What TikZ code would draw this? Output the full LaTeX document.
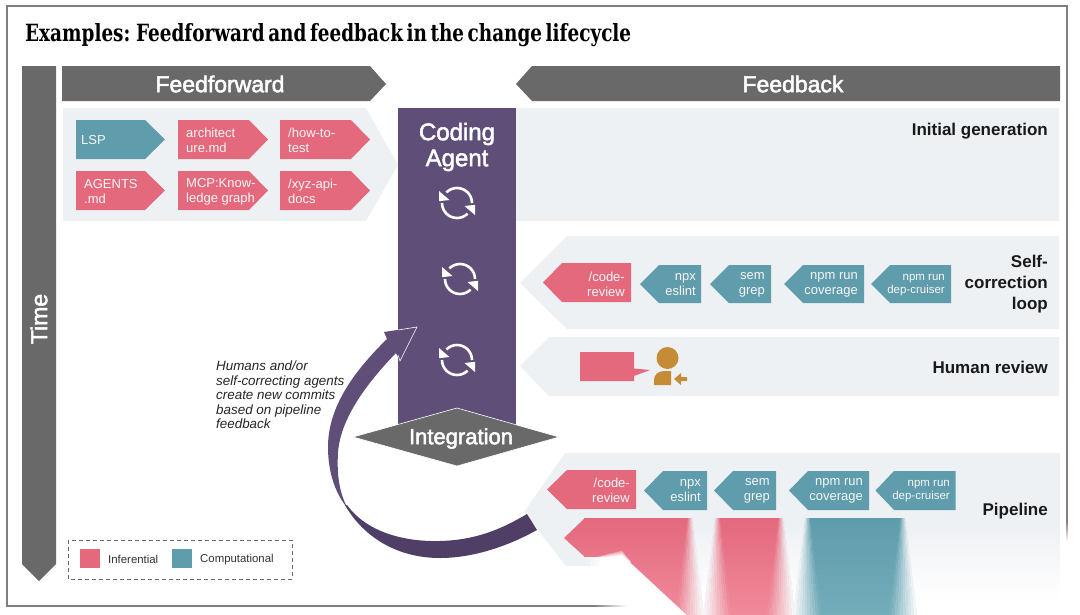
\documentclass[tikz,border=0pt]{standalone}
\usepackage{fontspec}
\setmainfont{Liberation Sans}
\newfontfamily\titlefont[WordSpace=0.55]{DejaVu Serif}
\newcommand{\medtext}[1]{\special{pdf:code 2 Tr 0.5 w}#1\special{pdf:code 0 Tr 1 w}}
\definecolor{cgray}{HTML}{696969}
\definecolor{cpanel}{HTML}{EEF1F4}
\definecolor{cpink}{HTML}{E4697D}
\definecolor{cpinklow}{HTML}{F08A9A}
\definecolor{cteal}{HTML}{5F9CAC}
\definecolor{ctealow}{HTML}{74ADBA}
\definecolor{cpurple}{HTML}{5E4E78}
\definecolor{cpurpledark}{HTML}{4F3F66}
\definecolor{cochre}{HTML}{C68C35}
\definecolor{cframe}{HTML}{7F7F7F}
\definecolor{cchip}{HTML}{F7F7F7}
\tikzset{
  x=1pt,y=-1pt,
  chiptext/.style={text=cchip,font=\fontsize{13}{15}\selectfont,inner sep=0pt,align=left},
  chiptextr/.style={text=cchip,font=\fontsize{13}{15}\selectfont,inner sep=0pt,align=right,anchor=east},
  chipsmall/.style={text=cchip,font=\fontsize{11.5}{13}\selectfont,inner sep=0pt,align=right,anchor=east},
  headtext/.style={text=white,font=\fontsize{23}{26}\selectfont,inner sep=0pt,align=center},
  stagetext/.style={text=black!90,font=\bfseries\fontsize{17}{21}\selectfont,inner sep=0pt,align=right,anchor=east},
  legendtext/.style={text=black!80,font=\fontsize{11.4}{13}\selectfont,inner sep=0pt,anchor=west},
}
\newcommand{\Rchip}[6]{\fill[#6] (#1,#4) -- (#2,#4) -- (#3,{(#4+#5)/2}) -- (#2,#5) -- (#1,#5) -- cycle;}
\newcommand{\Lchip}[6]{\fill[#6] (#3,#4) -- (#2,#4) -- (#1,{(#4+#5)/2}) -- (#2,#5) -- (#3,#5) -- cycle;}
\newcommand{\syncicon}[2]{%
  \begin{scope}[shift={(#1,#2)}]
    \draw[white,line width=2.6pt] (15,0) arc[start angle=0,end angle=-135,radius=15];
    \draw[white,line width=2.6pt] (-15,0) arc[start angle=180,end angle=45,radius=15];
    \fill[white] (-18,-12) -- (-7.5,-3) -- (-18,-1.8) -- cycle;
    \fill[white] (18,12) -- (7.5,3) -- (18,1.8) -- cycle;
  \end{scope}}
% soft-sided bar drawn as a grid of flat cells: x0,x1,top colour,bottom colour,soft left (1/0)
\newcommand{\softbar}[5]{%
  \foreach \yy in {518,521,...,614}{
    \pgfmathsetmacro{\tfrac}{(\yy-518)/96}
    \pgfmathsetmacro{\ww}{3+11*\tfrac}
    \pgfmathsetmacro{\mixbar}{100*(1-\tfrac)}
    \pgfmathsetmacro{\mixbg}{max(0,min(100,100*(1-(\yy-525)/150)))}
    \colorlet{barc}{#3!\mixbar!#4}
    \colorlet{bgc}{cpanel!\mixbg!white}
    \fill[barc] ({#1+\ww*#5},\yy) rectangle ({#2-\ww+0.3},\yy+3.4);
    \foreach \kk in {0,...,9}{
      \pgfmathsetmacro{\fr}{100*(\kk+0.5)/10}
      \colorlet{cellc}{bgc!\fr!barc}
      \fill[cellc] ({#2-\ww+2*\ww*\kk/10},\yy) rectangle ({#2-\ww+2*\ww*(\kk+1)/10+0.3},\yy+3.4);
      \ifnum#5=1
        \fill[cellc] ({#1+\ww-2*\ww*\kk/10+0.3},\yy) rectangle ({#1+\ww-2*\ww*(\kk+1)/10},\yy+3.4);
      \fi
    }
  }}
\begin{document}
\begin{tikzpicture}
\useasboundingbox (0,0) rectangle (1080,614);
\fill[white] (0,0) rectangle (1080,614);

\node[anchor=base west,inner sep=0pt] (title) at (25,41) {\resizebox{606pt}{18pt}{\titlefont\bfseries Examples: Feedforward and feedback in the change lifecycle}};

\fill[cgray] (22,66) -- (56,66) -- (56,564) -- (39,581) -- (22,564) -- cycle;
\node[headtext,rotate=90] (time) at (39,319) {\medtext{Time}};

\fill[cgray] (62,66) -- (370,66) -- (386,84) -- (370,101) -- (62,101) -- cycle;
\node[headtext] (ff) at (220,84) {\medtext{Feedforward}};
\fill[cgray] (1060,66) -- (532,66) -- (516,84) -- (532,101) -- (1060,101) -- cycle;
\node[headtext] (fb) at (793,84) {\medtext{Feedback}};

\fill[cpanel] (63,108) -- (366,108) -- (398,165) -- (366,221) -- (63,221) -- cycle;
\Rchip{76}{145}{165}{120}{159}{cteal}
\Rchip{178}{249}{268}{120}{159}{cpink}
\Rchip{280}{351}{370}{120}{159}{cpink}
\Rchip{76}{145}{165}{171}{210}{cpink}
\Rchip{178}{249}{268}{171}{210}{cpink}
\Rchip{280}{351}{370}{171}{210}{cpink}
\node[chiptext,anchor=west] (lsp) at (81,140.5) {LSP};
\node[chiptext,anchor=west] (arch) at (186,140.5) {architect\\ure.md};
\node[chiptext,anchor=west] (howto) at (288,140.5) {/how-to-\\test};
\node[chiptext,anchor=west] (agents) at (84,191.5) {AGENTS\\.md};
\node[chiptext,anchor=west] (mcp) at (186,191.5) {MCP:Know-\\ledge graph};
\node[chiptext,anchor=west] (xyz) at (288,191.5) {/xyz-api-\\docs};

\fill[cpanel] (516,108) rectangle (1059,221);
\node[stagetext] (initgen) at (1048,131) {Initial generation};

\fill[cpanel] (1059,236) -- (567,236) -- (520,283) -- (567,329) -- (1059,329) -- cycle;
\Lchip{543}{562}{631}{263}{302}{cpink}
\Lchip{640}{659}{701}{265}{303}{cteal}
\Lchip{710}{729}{771}{265}{303}{cteal}
\Lchip{784}{803}{864}{265}{303}{cteal}
\Lchip{871}{890}{951}{265}{303}{cteal}
\node[chiptextr] (cr1) at (625,284) {/code-\\review};
\node[chiptextr] (np1) at (696,285) {npx\\eslint};
\node[chiptextr] (sg1) at (765,285) {sem\\grep};
\node[chiptextr] (co1) at (858,285) {npm run\\coverage};
\node[chipsmall] (de1) at (945,285) {npm run\\dep-cruiser};
\node[stagetext] (selfc) at (1048,284.5) {Self-\\correction\\loop};

\fill[cpanel] (1059,337) -- (549,337) -- (520,366) -- (549,396) -- (1059,396) -- cycle;
\fill[cpink] (580,352) -- (634,352) -- (634,368.5) -- (650,370) -- (634,376) -- (634,381) -- (580,381) -- cycle;
\fill[cochre] (667.5,358) circle[radius=11];
\fill[cochre] (654,385) -- (654,380) .. controls (654,375) and (658,371) .. (664,371) -- (671,371) -- (671,385) -- cycle;
\fill[cochre] (674,379) -- (681,373) -- (681,377) -- (687,377) -- (687,381) -- (681,381) -- (681,385) -- cycle;
\node[stagetext] (human) at (1048,367.5) {Human review};

% pipeline panel
\fill[cpanel] (1060,453) -- (565,453) -- (524,512) -- (566,566) -- (590,566) -- (590,525) -- (1060,525) -- cycle;
\foreach \yy in {525,527,...,600}{
  \pgfmathsetmacro{\mixbg}{max(0,100*(1-(\yy-525)/75))}
  \colorlet{bgc}{cpanel!\mixbg!white}
  \fill[bgc] (590,\yy) rectangle (1060,\yy+2.3);
}
\Lchip{547}{567}{636}{470}{509}{cpink}
\Lchip{644}{663}{707}{471}{510}{cteal}
\Lchip{714}{733}{776}{471}{510}{cteal}
\Lchip{789}{808}{869}{471}{510}{cteal}
\Lchip{875.5}{894}{955.5}{471}{510}{cteal}
\node[chiptextr] (cr2) at (630,490.5) {/code-\\review};
\node[chiptextr] (np2) at (701,491) {npx\\eslint};
\node[chiptextr] (sg2) at (770,491) {sem\\grep};
\node[chiptextr] (co2) at (863,491) {npm run\\coverage};
\node[chipsmall] (de2) at (950,491) {npm run\\dep-cruiser};
\node[stagetext] (pipe) at (1048,511) {Pipeline};

% big fading bars
\softbar{584}{690}{cpink}{cpinklow}{0}
\softbar{717}{781}{cpink}{cpinklow}{1}
\softbar{807}{903}{cteal}{ctealow}{1}
\begin{scope}
  \clip (585,518) -- (564,538) -- (585,557) -- cycle;
  \foreach \yy in {518,521,...,557}{
    \pgfmathsetmacro{\mixbar}{100*(1-(\yy-518)/96)}
    \colorlet{barc}{cpink!\mixbar!cpinklow}
    \fill[barc] (560,\yy) rectangle (590,\yy+3.4);
  }
\end{scope}
% panel showing under the first bar, then white
\foreach \xx in {566,570,...,602}{
  \pgfmathsetmacro{\mixbg}{max(0,min(100,100*(1-(\xx-584)/18)))}
  \colorlet{bgc}{cpanel!\mixbg!white}
  \fill[bgc] (\xx,557.2) rectangle (\xx+4.3,566);
}
\fill[white] (560,566) -- (600,566) -- (600,558) -- (622,555) -- (692,620) -- (560,620) -- cycle;
\foreach \dd in {1,2,3,4}{
  \fill[white,opacity=0.3] ({598-\dd},557.6) -- (622,{555-1.1*\dd}) -- ({632-\dd*0.3},{563-\dd*0.3}) -- (600,563) -- cycle;
}

% frame
\draw[cframe,line width=1.5pt] (593,606) -- (7,606) -- (7,6) -- (1067,6) -- (1067,521);
\foreach \xx in {593,596,...,623}{
  \pgfmathsetmacro{\mixf}{100*(1-(\xx-593)/32)}
  \colorlet{fc}{cframe!\mixf!white}
  \fill[fc] (\xx,605.2) rectangle (\xx+3.3,606.8);
}
\foreach \yy in {521,523,...,539}{
  \pgfmathsetmacro{\mixf}{100*(1-(\yy-521)/20)}
  \colorlet{fc}{cframe!\mixf!white}
  \fill[fc] (1066.2,\yy) rectangle (1067.8,\yy+2.3);
}

% coding agent column
\fill[cpurple] (398,108) rectangle (516,425);
\node[text=white,font=\fontsize{24}{26}\selectfont,inner sep=0pt,align=center] (agent) at (457,147) {\medtext{Coding\\Agent}};
\syncicon{457}{203}
\syncicon{460}{279}
\syncicon{457}{360}

% curved arrow
\fill[cpurple] (417,327) -- (384,332) -- (387,339)
  .. controls (350,375) and (328,410) .. (328,447)
  .. controls (328,470) and (334,490) .. (345,505)
  -- (347,507) .. controls (338,490) and (337,470) .. (338,453)
  .. controls (340,420) and (365,385) .. (396,353)
  -- (400,361) -- cycle;
\fill[cpurpledark] (345,505)
  .. controls (362,535) and (395,558) .. (440,558)
  .. controls (475,558) and (510,545) .. (537,530)
  -- (527,514) .. controls (500,530) and (475,540) .. (440,541)
  .. controls (400,542) and (365,530) .. (347,505) -- cycle;
\draw[white,line width=0.6pt] (398,330) -- (417,327) -- (400,361) -- (398,355);

% integration diamond
\fill[cgray,draw=white,line width=0.6pt] (353,437) -- (457,408) -- (559,437) -- (457,466) -- cycle;
\node[text=white,font=\fontsize{22}{24}\selectfont,inner sep=0pt] (integ) at (461,438.5) {\medtext{Integration}};

% note
\node[anchor=north west,inner sep=0pt,align=left,text=black!85,font=\itshape\fontsize{13.4}{14.5}\selectfont] (note) at (216,361) {Humans and/or\\self-correcting agents\\create new commits\\based on pipeline\\feedback};

% legend
\draw[cgray,line width=1pt,dash pattern=on 4pt off 3pt] (68,540) rectangle (292,579);
\fill[cpink] (80,549) rectangle (100,568);
\fill[cteal] (172,549) rectangle (192,568);
\node[legendtext] (li) at (108,559.5) {Inferential};
\node[legendtext] (lc) at (200,559.5) {Computational};
\end{tikzpicture}
\end{document}
